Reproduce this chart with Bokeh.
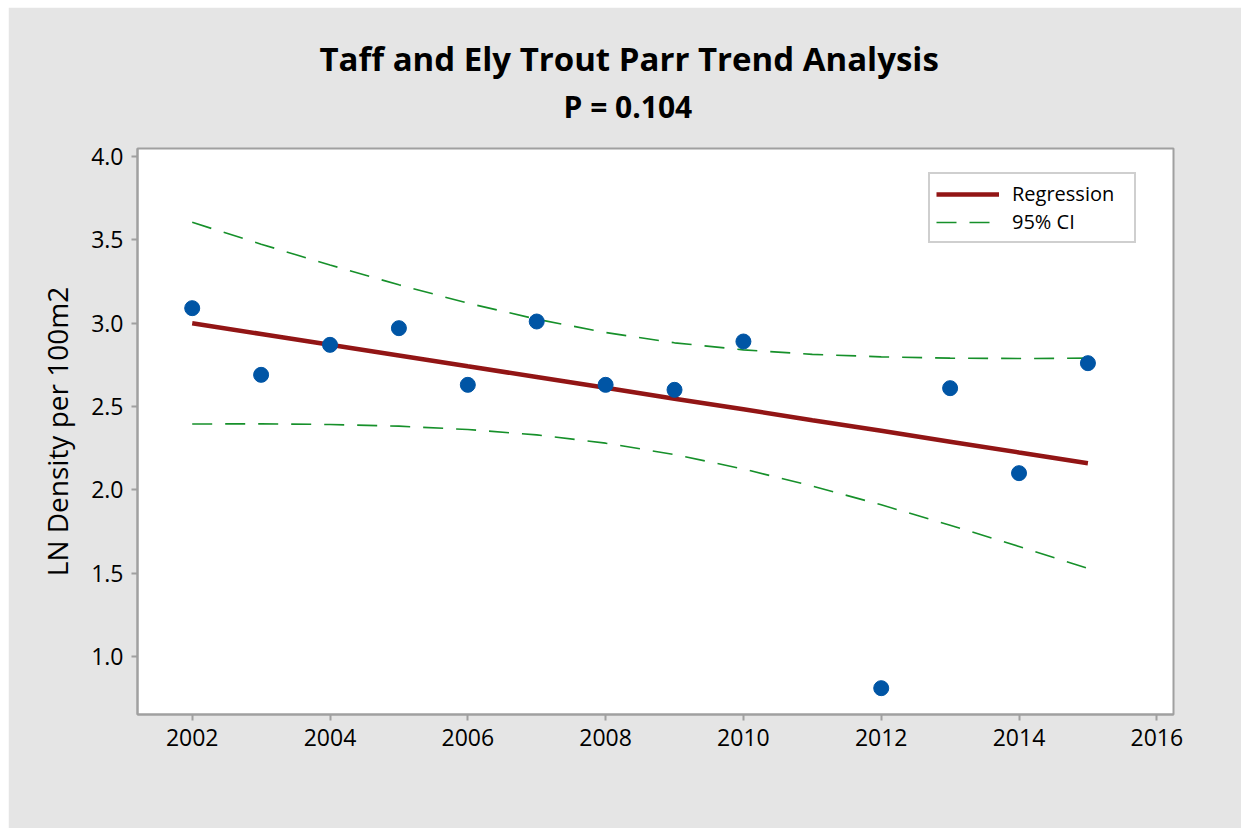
from bokeh.plotting import figure
from bokeh.models import Title, Legend, LegendItem, FixedTicker, Range1d
from bokeh.embed import file_html
from bokeh.resources import INLINE

# Observed data
years = [2002, 2003, 2004, 2005, 2006, 2007, 2008, 2009, 2010, 2012, 2013, 2014, 2015]
ln_density = [3.09, 2.69, 2.87, 2.97, 2.63, 3.01, 2.63, 2.60, 2.89, 0.81, 2.61, 2.10, 2.76]

# Regression line and 95% CI
fit_years = [2002, 2003, 2004, 2005, 2006, 2007, 2008, 2009, 2010, 2011, 2012, 2013, 2014, 2015]
fit_values = [3.00, 2.935, 2.87, 2.806, 2.741, 2.677, 2.612, 2.547, 2.483, 2.418, 2.354, 2.289, 2.224, 2.16]
ci_upper = [3.605, 3.474, 3.349, 3.230, 3.120, 3.024, 2.944, 2.882, 2.840, 2.813, 2.798, 2.790, 2.788, 2.790]
ci_lower = [2.395, 2.396, 2.392, 2.382, 2.362, 2.330, 2.280, 2.212, 2.125, 2.023, 1.910, 1.788, 1.660, 1.529]

x_ticks = [2002, 2004, 2006, 2008, 2010, 2012, 2014, 2016]
y_ticks = [1.0, 1.5, 2.0, 2.5, 3.0, 3.5, 4.0]

FONT = "Open Sans"
BG = "#e5e5e5"
AX = "#a0a0a0"

p = figure(width=1233, height=821, output_backend="svg", toolbar_location=None,
           x_range=Range1d(2001.206, 2016.242), y_range=Range1d(0.652, 4.048),
           min_border_left=129, min_border_right=68, min_border_top=141, min_border_bottom=114,
           background_fill_color="white", border_fill_color=BG,
           styles={"margin-left": "8px", "margin-top": "7px"})

p.outline_line_color = AX
p.outline_line_width = 2
p.xgrid.visible = False
p.ygrid.visible = False

for ax in (p.xaxis[0], p.yaxis[0]):
    ax.axis_line_color = AX
    ax.axis_line_width = 2
    ax.major_tick_line_color = AX
    ax.major_tick_line_width = 2
    ax.major_tick_out = 6
    ax.major_tick_in = 0
    ax.minor_tick_line_color = None
    ax.major_label_text_font = FONT
    ax.major_label_text_font_size = "23px"
    ax.major_label_text_color = "black"

p.xaxis.ticker = FixedTicker(ticks=x_ticks)
p.yaxis.ticker = FixedTicker(ticks=y_ticks)
p.yaxis.major_label_overrides = {t: f"{t:.1f}" for t in y_ticks}
p.xaxis.major_label_standoff = 8
p.yaxis.major_label_standoff = 8

p.yaxis.axis_label = "LN Density per 100m2"
p.yaxis.axis_label_text_font = FONT
p.yaxis.axis_label_text_font_size = "28px"
p.yaxis.axis_label_text_font_style = "normal"
p.yaxis.axis_label_text_color = "black"
p.yaxis.axis_label_standoff = 12

sub = Title(text="P = 0.104", align="left", text_font=FONT, text_font_size="30px",
            text_font_style="bold", text_color="black", standoff=43, offset=426)
main = Title(text="Taff and Ely Trout Parr Trend Analysis", align="left", text_font=FONT,
             text_font_size="33px", text_font_style="bold", text_color="black", standoff=-37,
             offset=182)
p.add_layout(sub, "above")
p.add_layout(main, "above")

ci_col = "#16902a"
r_up = p.line(fit_years, ci_upper, line_color=ci_col, line_width=1.6, line_dash="20 13")
r_lo = p.line(fit_years, ci_lower, line_color=ci_col, line_width=1.6, line_dash="20 13")
r_reg = p.line(fit_years, fit_values, line_color="#921515", line_width=4.5)
p.scatter(years, ln_density, size=15, marker="circle", fill_color="#0055a5", line_color="#0055a5")

legend = Legend(items=[LegendItem(label="Regression", renderers=[r_reg]),
                       LegendItem(label="95% CI", renderers=[r_up])],
                location=(791, 471), glyph_width=63, label_standoff=13, padding=6,
                spacing=1, label_width=116, label_text_font=FONT, label_text_font_size="20px",
                label_text_color="black",
                border_line_color=AX, border_line_width=2, background_fill_color="white",
                background_fill_alpha=1.0)
p.add_layout(legend, "center")

open("out.html", "w").write(file_html(p, INLINE))
